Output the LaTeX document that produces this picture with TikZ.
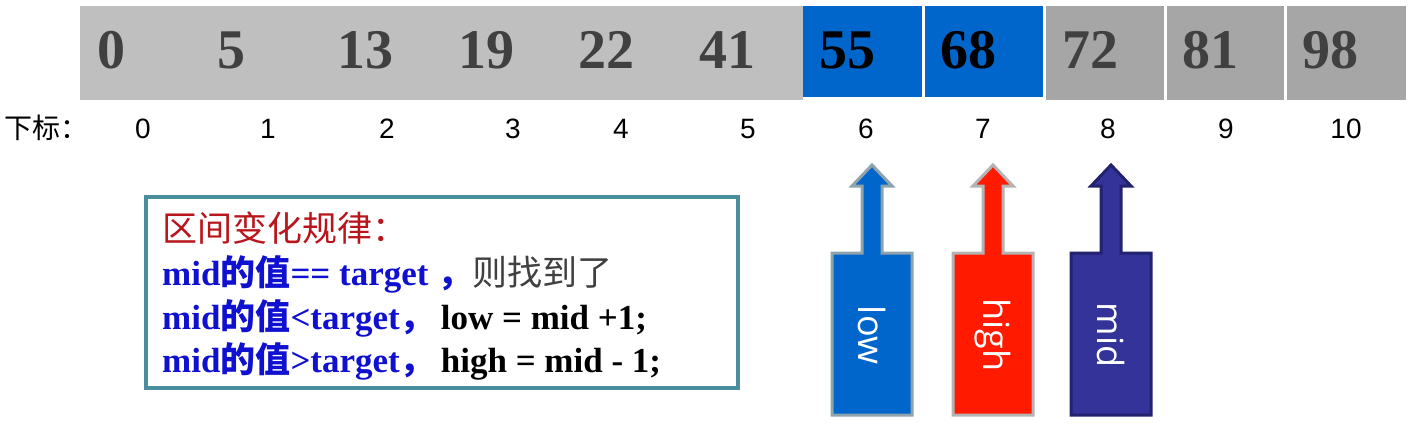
\documentclass[tikz,border=0pt]{standalone}
\usepackage{fontspec}
\setmainfont{Liberation Serif}
\newfontfamily\cjk{Noto Sans CJK SC}
\newfontfamily\arialf{Liberation Sans}
\newfontfamily\opensans{Open Sans}
\definecolor{lgray}{HTML}{BFBFBF}
\definecolor{dgray}{HTML}{A6A6A6}
\definecolor{cellblue}{HTML}{0066CC}
\definecolor{numgray}{HTML}{404040}
\definecolor{titlered}{HTML}{B8161C}
\definecolor{txtblue}{HTML}{1010D0}
\definecolor{boxteal}{HTML}{4A8E9E}
\definecolor{lowedge}{HTML}{8FA3AD}
\definecolor{highred}{HTML}{FF1A00}
\definecolor{highedge}{HTML}{B4B4B4}
\definecolor{midnavy}{HTML}{333399}
\definecolor{midedge}{HTML}{22226E}
\newcommand\zh[1]{{\cjk #1}}
\tikzset{
  num/.style={anchor=base west,inner sep=0pt,font=\fontsize{56}{56}\selectfont\bfseries,text=numgray},
  numb/.style={num,text=black},
  idx/.style={anchor=base,inner sep=0pt,font=\arialf\fontsize{28}{28}\selectfont},
  rule/.style={anchor=base west,inner sep=0pt,font=\fontsize{35}{35}\selectfont},
  arrowlabel/.style={rotate=-90,inner sep=0pt,text=white,font=\opensans\fontsize{36}{36}\selectfont},
}
\newcommand\uparrowshape[5]{% cx, fill, edge, name, label
  \draw[line width=3pt,draw=#3,fill=#2,line join=miter]
    (#1-40,415) -- (#1-40,253) -- (#1-10,253) -- (#1-10,186) -- (#1-20,186)
    -- (#1,165) -- (#1+20,186) -- (#1+10,186) -- (#1+10,253) -- (#1+40,253)
    -- (#1+40,415) -- cycle;
  \node[arrowlabel] (#4) at (#1,335) {#5};
}
\begin{document}
\begin{tikzpicture}[x=1pt,y=-1pt]
\useasboundingbox (0,0) rectangle (1416,436);
% array
\fill[lgray] (80,6) rectangle (803,100);
\fill[cellblue] (803,6) rectangle (922,97);
\fill[cellblue] (925,6) rectangle (1043,97);
\fill[dgray] (1046,6) rectangle (1164,100);
\fill[dgray] (1167,6) rectangle (1284,100);
\fill[dgray] (1287,6) rectangle (1406,100);
\node[num] (v0) at (97,68) {0};
\node[num] (v1) at (217,68) {5};
\node[num] (v2) at (337,68) {13};
\node[num] (v3) at (458,68) {19};
\node[num] (v4) at (578,68) {22};
\node[num] (v5) at (699,68) {41};
\node[numb] (v6) at (819,68) {55};
\node[numb] (v7) at (940,68) {68};
\node[num] (v8) at (1062,68) {72};
\node[num] (v9) at (1182,68) {81};
\node[num] (v10) at (1302,68) {98};
% indices
\node[anchor=base west,inner sep=0pt,font=\cjk\fontsize{28}{28}\selectfont] (lbl) at (4,138) {下标：};
\node[idx] (i0) at (143,138) {0};
\node[idx] (i1) at (268,138) {1};
\node[idx] (i2) at (387,138) {2};
\node[idx] (i3) at (513,138) {3};
\node[idx] (i4) at (621,138) {4};
\node[idx] (i5) at (748,138) {5};
\node[idx] (i6) at (866,138) {6};
\node[idx] (i7) at (983,138) {7};
\node[idx] (i8) at (1108,138) {8};
\node[idx] (i9) at (1226,138) {9};
\node[idx] (i10) at (1346,138) {10};
% rule box
\draw[boxteal,line width=3.5pt] (146,197) rectangle (738,388);
\node[rule,text=titlered] (r1) at (162,241) {\zh{区间变化规律：}};
\node[rule] (r2) at (162,285) {\textcolor{txtblue}{\bfseries mid\zh{的值}== target \zh{，}}\textcolor{numgray}{\zh{则找到了}}};
\node[rule] (r3) at (162,329) {\textcolor{txtblue}{\bfseries mid\zh{的值}<target\zh{，}}\hspace{6pt}{\bfseries low = mid +1;}};
\node[rule] (r4) at (162,372) {\textcolor{txtblue}{\bfseries mid\zh{的值}>target\zh{，}}\hspace{6pt}{\bfseries high = mid - 1;}};
% pointer arrows
\uparrowshape{872}{cellblue}{lowedge}{lowp}{low}
\uparrowshape{993}{highred}{highedge}{highp}{high}
\uparrowshape{1111}{midnavy}{midedge}{midp}{mid}
\end{tikzpicture}
\end{document}
